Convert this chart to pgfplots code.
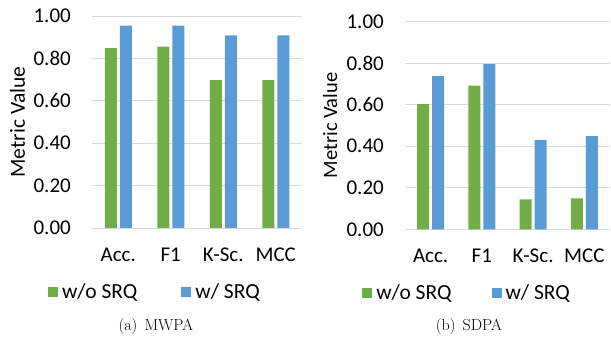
\documentclass[border=0pt]{standalone}
\usepackage{fontspec}
\usepackage{pgfplots}
\pgfplotsset{compat=1.18}
\newfontfamily\carlito{Carlito}
\definecolor{cgreen}{HTML}{70AD47}
\definecolor{cblue}{HTML}{5B9BD5}
\definecolor{cgrid}{HTML}{D9D9D9}
\pgfplotsset{
  mystyle/.style={
    ybar=3bp, bar width=12bp,
    scale only axis,
    ymin=0, ymax=1,
    xmin=-0.5, xmax=3.5,
    xtick={0,1,2,3},
    xticklabels={Acc., F1, K-Sc., MCC},
    ytick={0,0.2,0.4,0.6,0.8,1.0},
    yticklabel style={/pgf/number format/fixed, /pgf/number format/fixed zerofill, /pgf/number format/precision=2, anchor=east, inner sep=0pt, xshift=-21bp},
    /pgf/number format/assume math mode=true,
    xticklabel style={anchor=base, yshift=-33.5bp},
    major tick length=0pt,
    axis line style={draw=none},
    ymajorgrids, grid style={draw=cgrid, line width=0.9bp},
    tick label style={font=\carlito\fontsize{21bp}{24bp}\selectfont},
    label style={font=\carlito\fontsize{21bp}{24bp}\selectfont},
    legend style={draw=none, fill=none, inner sep=0pt, legend columns=2,
      font=\carlito\fontsize{21.5bp}{24bp}\selectfont, anchor=center,
      nodes={inner sep=0pt},
      /tikz/every odd column/.append style={column sep=4bp}},
    legend image code/.code={\fill[##1] (0bp,-5bp) rectangle (10bp,5bp);},
    every axis plot/.append style={draw=none},
  }
}
\begin{document}
\begin{tikzpicture}
\path[use as bounding box] (0,0) rectangle (611bp,337bp);
\begin{axis}[mystyle, at={(92bp,109bp)}, anchor=south west, width=210bp, height=212bp,
  ylabel={Metric Value}, ylabel style={at={(axis description cs:-0.355,0.5)}, anchor=center, font=\carlito\fontsize{21.5bp}{24bp}\selectfont},
  legend style={at={(axis description cs:0.295,-0.302)}, /tikz/every even column/.append style={column sep=44bp}}]
\addplot[fill=cgreen] coordinates {(0,0.848) (1,0.855) (2,0.698) (3,0.698)};
\addplot[fill=cblue] coordinates {(0,0.955) (1,0.955) (2,0.909) (3,0.909)};
\legend{w/o SRQ, w/ SRQ}
\end{axis}
\begin{axis}[mystyle, at={(405bp,107.7bp)}, anchor=south west, width=205bp, height=207.6bp,
  ylabel={Metric Value}, ylabel style={at={(axis description cs:-0.366,0.5)}, anchor=center, font=\carlito\fontsize{20.5bp}{24bp}\selectfont},
  legend style={at={(axis description cs:0.298,-0.307)}, /tikz/every even column/.append style={column sep=40bp}}]
\addplot[fill=cgreen] coordinates {(0,0.603) (1,0.692) (2,0.144) (3,0.149)};
\addplot[fill=cblue] coordinates {(0,0.738) (1,0.796) (2,0.430) (3,0.449)};
\legend{w/o SRQ, w/ SRQ}
\end{axis}
\node[anchor=base, font=\fontsize{16bp}{18bp}\selectfont] at (156bp,7bp) {(a)\hspace{0.45em}MWPA};
\node[anchor=base, font=\fontsize{16bp}{18bp}\selectfont] at (469bp,7bp) {(b)\hspace{0.45em}SDPA};
\end{tikzpicture}
\end{document}
